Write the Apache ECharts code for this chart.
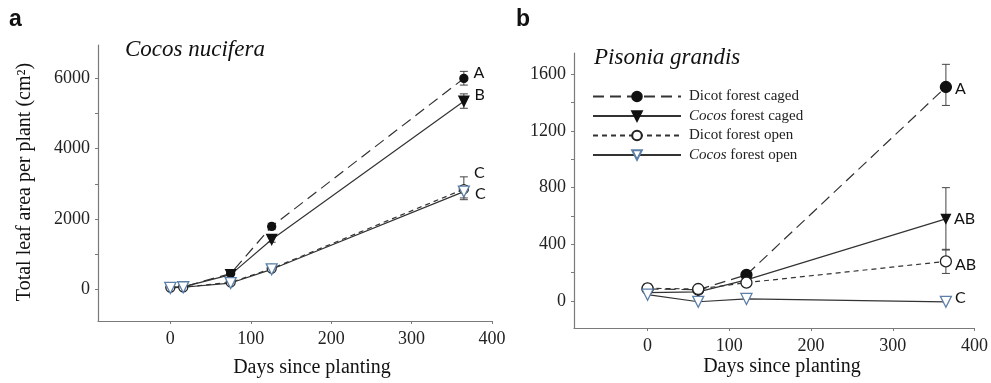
<!DOCTYPE html>
<html>
<head>
<meta charset="utf-8">
<script src="https://cdn.jsdelivr.net/npm/echarts@6/dist/echarts.min.js"></script>
<style>
  html, body { margin: 0; padding: 0; background: #fff; }
  #chart { width: 991px; height: 383px; }
</style>
</head>
<body>
<div id="chart"></div>
<script>
// series names (shared by both panels)
const names = ['Dicot forest caged', 'Cocos forest caged', 'Dicot forest open', 'Cocos forest open'];

// panel a: Cocos nucifera
const daysA = [0, 16, 75, 126, 365];
const dicotCagedA = [60, 70, 450, 1790, 6000];
const cocosCagedA = [50, 70, 420, 1420, 5350];
const dicotOpenA = [50, 60, 200, 590, 2850];
const cocosOpenA = [40, 60, 180, 570, 2780];
const lettersA = ['A', 'B', 'C', 'C'];
const errA = [[365, 5810, 6200], [365, 5150, 5560], [365, 2550, 3200], [365, 2600, 2950], [126, 1700, 1880], [126, 1340, 1500]];

// panel b: Pisonia grandis
const daysB = [0, 62, 121, 365];
const dicotCagedB = [85, 80, 185, 1510];
const cocosCagedB = [60, 65, 150, 580];
const dicotOpenB = [90, 85, 130, 280];
const cocosOpenB = [45, -5, 15, -5];
const lettersB = ['A', 'AB', 'AB', 'C'];
const errB = [[365, 1380, 1670], [365, 360, 800], [365, 195, 365], [0, 65, 120]];

// tick values
const xTicks = [0, 100, 200, 300, 400];
const yTicksA = [0, 1000, 2000, 3000, 4000, 5000, 6000];
const yLabelsA = [0, 2000, 4000, 6000];
const yTicksB = [0, 200, 400, 600, 800, 1000, 1200, 1400, 1600];
const yLabelsB = [0, 400, 800, 1200, 1600];

const serif = "'Liberation Serif', 'Times New Roman', serif";
const axisGray = '#7a7a7a';
const lineCol = '#333';
const blue = '#5b7fa8';

const styles = [
  { symbol: 'circle', rotate: 0, fill: '#111', border: '#111', dash: [11, 6] },
  { symbol: 'triangle', rotate: 180, fill: '#111', border: '#111', dash: 'solid' },
  { symbol: 'circle', rotate: 0, fill: '#fff', border: '#222', dash: [5, 4] },
  { symbol: 'triangle', rotate: 180, fill: '#fff', border: blue, dash: 'solid' }
];

const chart = echarts.init(document.getElementById('chart'));

function makeData(days, vals, letter, offset) {
  return vals.map((v, i) => {
    if (i < vals.length - 1) return [days[i], v];
    return {
      value: [days[i], v],
      label: {
        show: true, formatter: letter, position: 'right', distance: 3, offset: offset,
        fontFamily: "Lato, 'Open Sans', sans-serif", fontSize: 16, color: '#111'
      }
    };
  });
}

function lineSeries(k, idx, days, vals, letter, offset, sizes) {
  const s = styles[k];
  return {
    name: names[k], type: 'line', xAxisIndex: idx, yAxisIndex: idx,
    data: makeData(days, vals, letter, offset),
    symbol: s.symbol, symbolRotate: s.rotate, symbolSize: sizes[k],
    showAllSymbol: true, z: 3,
    lineStyle: { color: lineCol, width: 1.2, type: s.dash },
    itemStyle: { color: s.fill, borderColor: s.border, borderWidth: 1.3 },
    emphasis: { disabled: true }
  };
}

function errRender(params, api) {
  const x = api.value(0);
  const p1 = api.coord([x, api.value(1)]);
  const p2 = api.coord([x, api.value(2)]);
  const w = 4;
  const st = { stroke: '#444', lineWidth: 1 };
  return {
    type: 'group',
    children: [
      { type: 'line', shape: { x1: p1[0], y1: p1[1], x2: p2[0], y2: p2[1] }, style: st },
      { type: 'line', shape: { x1: p1[0] - w, y1: p1[1], x2: p1[0] + w, y2: p1[1] }, style: st },
      { type: 'line', shape: { x1: p2[0] - w, y1: p2[1], x2: p2[0] + w, y2: p2[1] }, style: st }
    ]
  };
}

function xAxis(idx) {
  return {
    type: 'value', gridIndex: idx, min: -90, max: 400,
    axisLine: { show: true, onZero: false, lineStyle: { color: axisGray, width: 1.2 } },
    axisTick: { show: true, length: 3, customValues: xTicks, lineStyle: { color: axisGray } },
    axisLabel: { customValues: xTicks, margin: 9, fontFamily: serif, fontSize: 18, color: '#222', formatter: v => String(v) },
    splitLine: { show: false }
  };
}

function yAxis(idx, min, max, ticks, labels) {
  return {
    type: 'value', gridIndex: idx, min: min, max: max,
    axisLine: { show: true, onZero: false, lineStyle: { color: axisGray, width: 1.2 } },
    axisTick: { show: true, length: 3, customValues: ticks, lineStyle: { color: axisGray } },
    axisLabel: { customValues: labels, margin: 8, fontFamily: serif, fontSize: 18, color: '#222', formatter: v => String(v) },
    splitLine: { show: false }
  };
}

const sizesA = [8, 10, 9, 11];
const sizesB = [11, 9, 11, 11];
const offA = [[2, -6], [2, -6], [2, -16], [2, 2]];
const offB = [[0, 2], [0, 0], [0, 3], [0, -4]];
const valsA = [dicotCagedA, cocosCagedA, dicotOpenA, cocosOpenA];
const valsB = [dicotCagedB, cocosCagedB, dicotOpenB, cocosOpenB];

const series = [];
valsB.forEach((v, k) => series.push(lineSeries(k, 1, daysB, v, lettersB[k], offB[k], sizesB)));
valsA.forEach((v, k) => series.push(lineSeries(k, 0, daysA, v, lettersA[k], offA[k], sizesA)));
series.push({ type: 'custom', xAxisIndex: 0, yAxisIndex: 0, data: errA, renderItem: errRender, encode: { x: 0, y: [1, 2] }, z: 2, silent: true });
series.push({ type: 'custom', xAxisIndex: 1, yAxisIndex: 1, data: errB, renderItem: errRender, encode: { x: 0, y: [1, 2] }, z: 2, silent: true });

const option = {
  animation: false,
  backgroundColor: '#fff',
  grid: [
    { left: 98, top: 45, width: 394, height: 276 },
    { left: 574, top: 53, width: 401, height: 275 }
  ],
  xAxis: [xAxis(0), xAxis(1)],
  yAxis: [
    yAxis(0, -900, 6950, yTicksA, yLabelsA),
    yAxis(1, -190, 1750, yTicksB, yLabelsB)
  ],
  legend: {
    data: names, orient: 'vertical', left: 587, top: 84,
    itemWidth: 88, itemHeight: 12, itemGap: 4.5, selectedMode: false,
    textStyle: {
      fontFamily: serif, fontSize: 15, color: '#222', padding: [0, 0, 0, 3],
      rich: { i: { fontFamily: serif, fontSize: 15, fontStyle: 'italic', color: '#222' } }
    },
    formatter: n => n.replace('Cocos', '{i|Cocos}')
  },
  graphic: [
    { type: 'text', left: 9, top: 8, style: { text: 'a', font: "bold 23px 'Liberation Sans', Arial, sans-serif", fill: '#111' } },
    { type: 'text', left: 516, top: 8, style: { text: 'b', font: "bold 23px 'Liberation Sans', Arial, sans-serif", fill: '#111' } },
    { type: 'text', x: 125, y: 50, style: { text: 'Cocos nucifera', font: "italic 23px " + serif, fill: '#111', textVerticalAlign: 'middle' } },
    { type: 'text', x: 594, y: 58, style: { text: 'Pisonia grandis', font: "italic 23px " + serif, fill: '#111', textVerticalAlign: 'middle' } },
    { type: 'text', x: 25, y: 182, rotation: Math.PI / 2, style: { text: 'Total leaf area per plant (cm²)', font: "20px " + serif, fill: '#111', textAlign: 'center', textVerticalAlign: 'middle' } },
    { type: 'text', x: 312, y: 368, style: { text: 'Days since planting', font: "20px " + serif, fill: '#111', textAlign: 'center', textVerticalAlign: 'middle' } },
    { type: 'text', x: 782, y: 367, style: { text: 'Days since planting', font: "20px " + serif, fill: '#111', textAlign: 'center', textVerticalAlign: 'middle' } }
  ],
  series: series
};

chart.setOption(option);
</script>
</body>
</html>
